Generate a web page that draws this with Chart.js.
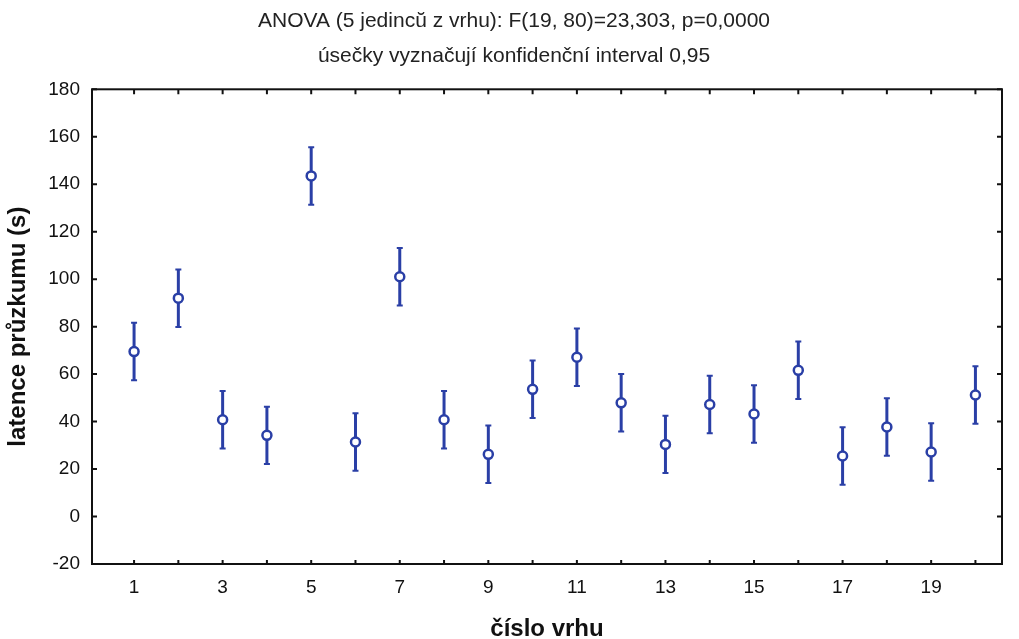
<!DOCTYPE html>
<html>
<head>
<meta charset="utf-8">
<script src="https://cdn.jsdelivr.net/npm/chart.js@4/dist/chart.umd.min.js"></script>
<style>
  body { margin: 0; background: #fff; }
  canvas { display: block; }
</style>
</head>
<body>
<canvas id="myChart" width="1019" height="639"></canvas>
<script>
  /* DATA */

  const litters = [1, 2, 3, 4, 5, 6, 7, 8, 9, 10, 11, 12, 13, 14, 15, 16, 17, 18, 19, 20];
  const means = [69.5, 92.0, 40.8, 34.2, 143.5, 31.4, 101.0, 40.8, 26.2, 53.6, 67.1, 47.9, 30.4, 47.2, 43.2, 61.6, 25.5, 37.7, 27.2, 51.2];
  const lower = [57.4, 79.9, 28.7, 22.1, 131.4, 19.3, 88.9, 28.7, 14.1, 41.5, 55.0, 35.8, 18.3, 35.1, 31.1, 49.5, 13.4, 25.6, 15.1, 39.1];
  const upper = [81.6, 104.1, 52.9, 46.3, 155.6, 43.5, 113.1, 52.9, 38.3, 65.7, 79.2, 60.0, 42.5, 59.3, 55.3, 73.7, 37.6, 49.8, 39.3, 63.3];
  const xTickLabels = ['1', '3', '5', '7', '9', '11', '13', '15', '17', '19'];
  const yTickValues = [-20, 0, 20, 40, 60, 80, 100, 120, 140, 160, 180];

  const titleLines = [
    'ANOVA (5 jedincŭ z vrhu): F(19, 80)=23,303, p=0,0000',
    'úsečky vyznačují konfidenční interval 0,95'
  ];

  const BLUE = '#2a3fa6';
  const FONT = "'Liberation Sans', Arial, sans-serif";

  /* ERROR BARS, FRAME AND INWARD TICKS */

  const errorBars = {
    id: 'errorBars',
    beforeDatasetsDraw(chart) {
      const ctx = chart.ctx;
      const x = chart.scales.x;
      const y = chart.scales.y;
      ctx.save();
      ctx.strokeStyle = BLUE;
      for (let i = 0; i < litters.length; i++) {
        const px = x.getPixelForValue(litters[i]);
        const lo = y.getPixelForValue(lower[i]);
        const hi = y.getPixelForValue(upper[i]);
        ctx.lineWidth = 3;
        ctx.beginPath();
        ctx.moveTo(px, lo);
        ctx.lineTo(px, hi);
        ctx.stroke();
        ctx.lineWidth = 2;
        ctx.beginPath();
        ctx.moveTo(px - 3, lo);
        ctx.lineTo(px + 3, lo);
        ctx.moveTo(px - 3, hi);
        ctx.lineTo(px + 3, hi);
        ctx.stroke();
      }
      ctx.restore();
    }
  };

  const frame = {
    id: 'frame',
    afterDraw(chart) {
      const ctx = chart.ctx;
      const a = chart.chartArea;
      const x = chart.scales.x;
      const y = chart.scales.y;
      ctx.save();
      ctx.strokeStyle = '#111';
      ctx.lineWidth = 2;
      ctx.strokeRect(a.left, a.top, a.right - a.left, a.bottom - a.top);
      ctx.beginPath();
      for (const v of litters) {
        const px = x.getPixelForValue(v);
        ctx.moveTo(px, a.bottom);
        ctx.lineTo(px, a.bottom - 4);
        ctx.moveTo(px, a.top);
        ctx.lineTo(px, a.top + 5);
      }
      for (const v of yTickValues) {
        const py = y.getPixelForValue(v);
        ctx.moveTo(a.left, py);
        ctx.lineTo(a.left + 5, py);
        ctx.moveTo(a.right, py);
        ctx.lineTo(a.right - 5, py);
      }
      ctx.stroke();
      ctx.restore();
    }
  };

  /* FUNCTION TO CREATE CHART */

  function initChart(canvas) {
    return new Chart(canvas, {
      type: 'scatter',
      data: {
        datasets: [{
          data: litters.map((v, i) => ({ x: v, y: means[i] })),
          pointStyle: 'circle',
          pointRadius: 4.5,
          pointBorderWidth: 2.5,
          pointBorderColor: BLUE,
          pointBackgroundColor: '#fff'
        }]
      },
      options: {
        responsive: false,
        animation: false,
        devicePixelRatio: 1,
        // left padding pushes the title centre right, the y axis is narrowed to match
        layout: { padding: { left: 26, right: 17, top: 0, bottom: 0 } },
        plugins: {
          legend: { display: false },
          tooltip: { enabled: false },
          title: {
            display: true,
            text: titleLines,
            color: '#222',
            font: { family: FONT, size: 21, weight: 'normal', lineHeight: 1.65 },
            padding: { top: 4, bottom: 16 }
          }
        },
        scales: {
          x: {
            type: 'linear',
            min: 0.05,
            max: 20.6,
            grid: { display: false, drawTicks: false },
            border: { display: false },
            afterBuildTicks: (scale) => {
              scale.ticks = litters.map(v => ({ value: v }));
            },
            afterFit: (scale) => { scale.height = 75; },
            ticks: {
              autoSkip: false,
              maxRotation: 0,
              padding: 12,
              color: '#111',
              font: { family: FONT, size: 19 },
              callback: (value) => xTickLabels.includes(String(value)) ? String(value) : ''
            },
            title: {
              display: true,
              text: 'číslo vrhu',
              color: '#111',
              font: { family: FONT, size: 24, weight: 'bold' },
              padding: { top: 0, bottom: -5 }
            }
          },
          y: {
            min: -20,
            max: 180,
            grid: { display: false, drawTicks: false },
            border: { display: false },
            afterBuildTicks: (scale) => {
              scale.ticks = yTickValues.map(v => ({ value: v }));
            },
            afterFit: (scale) => { scale.width = 66; },
            ticks: {
              padding: 12,
              color: '#111',
              font: { family: FONT, size: 19 }
            },
            title: {
              display: true,
              text: 'latence průzkumu (s)',
              color: '#111',
              font: { family: FONT, size: 24, weight: 'bold' },
              padding: { top: -22, bottom: 0 }
            }
          }
        }
      },
      plugins: [errorBars, frame]
    });
  }

  document.addEventListener('DOMContentLoaded', () => {
    initChart(document.querySelector('#myChart'));
  });
</script>
</body>
</html>
